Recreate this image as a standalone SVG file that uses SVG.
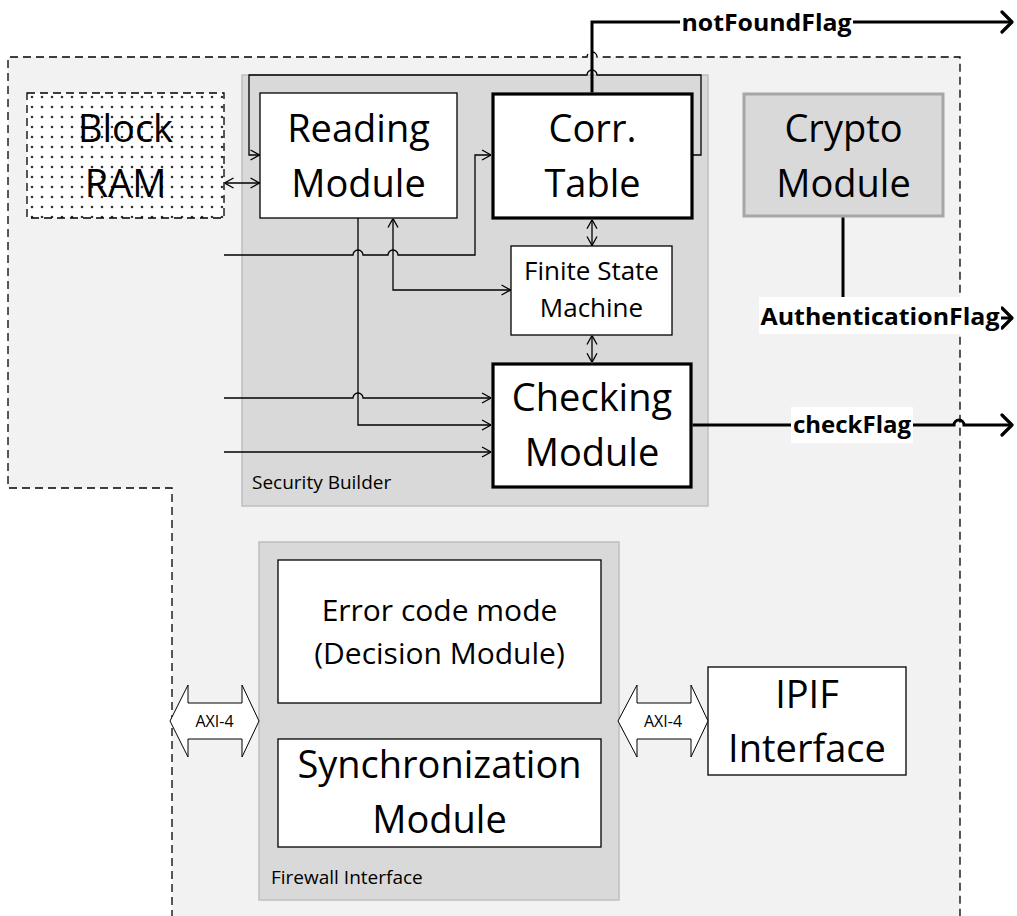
<svg xmlns="http://www.w3.org/2000/svg" width="1017" height="916" viewBox="0 0 1017 916">
<style>
text{font-family:"Open Sans","Liberation Sans",sans-serif;fill:#000}
.big{font-size:38px;text-anchor:middle}
.mid{font-size:26px;text-anchor:middle}
.err{font-size:30px;text-anchor:middle}
.cap{font-size:19px}
.axi{font-size:16px;text-anchor:middle}
.flag{font-size:24px;font-weight:bold;text-anchor:middle}
.box{fill:#fff;stroke:#000;stroke-width:1.3}
.thick{fill:#fff;stroke:#000;stroke-width:3.2}
.grp{fill:#d9d9d9;stroke:#bfbfbf;stroke-width:1.5}
.thin{fill:none;stroke:#000;stroke-width:1.3}
.bold{fill:none;stroke:#000;stroke-width:3}
.lbl{fill:#fff;stroke:none}
</style>
<defs>
<pattern id="dots" patternUnits="userSpaceOnUse" x="27" y="92" width="10" height="10">
<rect width="10" height="10" fill="#fff"/>
<circle cx="5" cy="5" r="1.3" fill="#333"/>
</pattern>
<marker id="ah" viewBox="0 0 10 12" refX="10" refY="6" markerWidth="10" markerHeight="12" markerUnits="userSpaceOnUse" orient="auto-start-reverse">
<path d="M1,1 L10,6 L1,11" fill="none" stroke="#000" stroke-width="1.3"/>
</marker>
<marker id="ahb" viewBox="0 0 14 24" refX="12.5" refY="12" markerWidth="14" markerHeight="24" markerUnits="userSpaceOnUse" orient="auto">
<path d="M2.5,2 L12.5,12 L2.5,22" fill="none" stroke="#000" stroke-width="3.2" stroke-linecap="round" stroke-linejoin="round"/>
</marker>
</defs>
<rect width="1017" height="916" fill="#fff"/>
<g id="fpga-region">
<path d="M172,918 V488 H8 V57 H587 A5,5 0 0 1 597,57 H960 V918" fill="#f2f2f2" stroke="#000" stroke-width="1.3" stroke-dasharray="8,5"/>
</g>
<g id="security-builder">
<rect class="grp" x="242" y="75" width="466" height="431"/>
<text class="cap" x="252" y="489">Security Builder</text>
</g>
<g id="firewall-interface">
<rect class="grp" x="259" y="542" width="360" height="358"/>
<text class="cap" x="271" y="884">Firewall Interface</text>
</g>
<g id="block-ram">
<rect x="27" y="93" width="197" height="125" fill="url(#dots)" stroke="#000" stroke-width="1.3" stroke-dasharray="8,5"/>
<text class="big" x="125.5" y="142">Block</text>
<text class="big" x="125.5" y="197">RAM</text>
</g>
<g id="reading-module">
<rect class="box" x="260" y="93" width="197" height="125"/>
<text class="big" x="358.5" y="142">Reading</text>
<text class="big" x="358.5" y="197">Module</text>
</g>
<g id="corr-table">
<rect class="thick" x="493" y="94" width="199" height="124"/>
<text class="big" x="592.5" y="142">Corr.</text>
<text class="big" x="592.5" y="197">Table</text>
</g>
<g id="crypto-module">
<rect x="744" y="94" width="199" height="122" fill="#d9d9d9" stroke="#a6a6a6" stroke-width="3"/>
<text class="big" x="843.5" y="142">Crypto</text>
<text class="big" x="843.5" y="197">Module</text>
</g>
<g id="fsm">
<rect class="box" x="511" y="246" width="161" height="89"/>
<text class="mid" x="591.5" y="280">Finite State</text>
<text class="mid" x="591.5" y="317">Machine</text>
</g>
<g id="checking-module">
<rect class="thick" x="493" y="364" width="198" height="123"/>
<text class="big" x="592" y="411">Checking</text>
<text class="big" x="592" y="466">Module</text>
</g>
<g id="error-code-mode">
<rect class="box" x="278" y="560" width="323" height="143"/>
<text class="err" x="439.5" y="621">Error code mode</text>
<text class="err" x="439.5" y="664">(Decision Module)</text>
</g>
<g id="synchronization-module">
<rect class="box" x="278" y="739" width="323" height="108"/>
<text class="big" x="439.5" y="778">Synchronization</text>
<text class="big" x="439.5" y="833">Module</text>
</g>
<g id="ipif-interface">
<rect class="box" x="708" y="667" width="198" height="108"/>
<text class="big" x="807" y="708">IPIF</text>
<text class="big" x="807" y="762">Interface</text>
</g>
<g id="axi-left">
<polygon points="170,721 188,685 188,703 242,703 242,685 259,721 242,757 242,739 188,739 188,757" fill="#fff" stroke="#000" stroke-width="1"/>
<text class="axi" x="214.5" y="727">AXI-4</text>
</g>
<g id="axi-right">
<polygon points="618,721 637,685 637,703 691,703 691,685 708,721 691,757 691,739 637,739 637,757" fill="#fff" stroke="#000" stroke-width="1"/>
<text class="axi" x="663" y="727">AXI-4</text>
</g>
<g id="connectors">
<path class="thin" d="M692,155 H701 V75 H597 A5,5 0 0 0 587,75 H249 V155 H259.5" marker-end="url(#ah)"/>
<path class="thin" d="M224.5,183 H259.5" marker-start="url(#ah)" marker-end="url(#ah)"/>
<path class="thin" d="M224,255 H353 A5,5 0 0 1 363,255 H388 A5,5 0 0 1 398,255 H475 V155 H491" marker-end="url(#ah)"/>
<path class="thin" d="M358,218 V425 H491" marker-end="url(#ah)"/>
<path class="thin" d="M510.5,290 H393 V218.5" marker-start="url(#ah)" marker-end="url(#ah)"/>
<path class="thin" d="M592,219.8 V245.5" marker-start="url(#ah)" marker-end="url(#ah)"/>
<path class="thin" d="M592,335.5 V362.3" marker-start="url(#ah)" marker-end="url(#ah)"/>
<path class="thin" d="M224,398 H353 A5,5 0 0 1 363,398 H491" marker-end="url(#ah)"/>
<path class="thin" d="M224,452 H491" marker-end="url(#ah)"/>
<path class="bold" d="M592,92.5 V22 H1012" marker-end="url(#ahb)"/>
<path class="bold" d="M843,217.5 V318 H1012" marker-end="url(#ahb)"/>
<path class="bold" d="M692.5,425 H954 A5,5 0 0 1 964,425 H1012" marker-end="url(#ahb)"/>
<rect class="lbl" x="680" y="8" width="173" height="28"/>
<text class="flag" x="766.5" y="31" textLength="170" lengthAdjust="spacingAndGlyphs">notFoundFlag</text>
<rect class="lbl" x="759" y="297" width="242" height="37"/>
<text class="flag" x="880" y="325" textLength="239" lengthAdjust="spacingAndGlyphs">AuthenticationFlag</text>
<rect class="lbl" x="791" y="407" width="122" height="36"/>
<text class="flag" x="852" y="433">checkFlag</text>
</g>
</svg>
